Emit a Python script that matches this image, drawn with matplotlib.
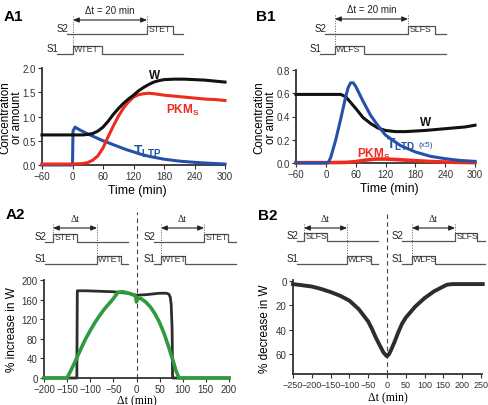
import matplotlib
matplotlib.use("Agg")
import matplotlib.pyplot as plt

plt.rcParams["font.family"] = ["Liberation Sans", "DejaVu Sans"]
plt.rcParams["mathtext.fontset"] = "custom"
plt.rcParams["mathtext.rm"] = "Liberation Sans"
plt.rcParams["mathtext.bf"] = "Liberation Sans:bold"

# ─────────────────────────────────────────
# DATA
# ─────────────────────────────────────────
# A1 : STET/WTET, concentrations vs time
a1_t_w = [-60, 0, 20, 30, 40, 50, 60, 70, 80, 90, 100, 110, 120, 130, 140,
          150, 160, 170, 180, 200, 220, 240, 260, 280, 300]
a1_w = [0.62, 0.62, 0.62, 0.63, 0.65, 0.70, 0.78, 0.90, 1.04, 1.16, 1.27, 1.36,
        1.44, 1.53, 1.60, 1.66, 1.71, 1.74, 1.76, 1.77, 1.77, 1.76, 1.75, 1.73, 1.71]
a1_t_pkm = [-60, 0, 20, 30, 40, 50, 60, 70, 80, 90, 100, 110, 120, 130, 140,
            150, 160, 180, 200, 220, 240, 260, 280, 300]
a1_pkm = [0.02, 0.02, 0.03, 0.05, 0.10, 0.19, 0.35, 0.58, 0.80, 1.00, 1.17, 1.30,
          1.40, 1.45, 1.47, 1.48, 1.47, 1.44, 1.42, 1.40, 1.38, 1.36, 1.35, 1.33]
a1_t_tag = [-60, 0, 1, 5, 15, 30, 45, 60, 75, 90, 105, 120, 135, 150, 180,
            210, 240, 270, 300]
a1_tag = [0.0, 0.0, 0.70, 0.78, 0.72, 0.64, 0.57, 0.50, 0.44, 0.38, 0.32, 0.27,
          0.22, 0.18, 0.12, 0.08, 0.055, 0.035, 0.02]

# B1 : SLFS/WLFS
b1_t_w = [-60, 0, 30, 40, 50, 60, 75, 90, 105, 120, 140, 160, 200, 240, 280, 300]
b1_w = [0.59, 0.59, 0.59, 0.57, 0.52, 0.47, 0.39, 0.34, 0.30, 0.28, 0.27, 0.27,
        0.28, 0.295, 0.31, 0.325]
b1_t_tag = [-60, 0, 5, 10, 20, 30, 40, 45, 50, 55, 60, 75, 90, 105, 120, 150,
            180, 210, 240, 270, 300]
b1_tag = [0.0, 0.0, 0.005, 0.05, 0.20, 0.38, 0.57, 0.65, 0.69, 0.69, 0.66, 0.53,
          0.41, 0.32, 0.24, 0.15, 0.095, 0.058, 0.037, 0.022, 0.014]
b1_t_pkm = [-60, 0, 40, 60, 80, 100, 120, 140, 160, 180, 210, 240, 270, 300]
b1_pkm = [0.003, 0.003, 0.005, 0.012, 0.025, 0.034, 0.034, 0.030, 0.025, 0.020,
          0.013, 0.008, 0.005, 0.003]

# A2 : % increase in W vs interval
a2_dt_black = [-200, -129, -128, -110, -80, -50, -20, 0, 20, 50, 65, 70, 73, 75,
               77, 78, 200]
a2_black = [0, 0, 178, 178, 177, 176, 173, 169, 170, 173, 173, 171, 165, 150,
            100, 0, 0]
a2_dt_green = [-200, -150, -140, -130, -120, -110, -100, -90, -80, -70, -60, -50,
               -40, -30, -20, -10, -2, 0, 2, 10, 20, 30, 40, 50, 60, 70, 80, 85,
               92, 200]
a2_green = [0, 0, 19, 39, 60, 80, 97, 113, 127, 140, 151, 162, 175, 176, 174,
            171, 167, 155, 163, 162, 155, 145, 131, 113, 90, 62, 32, 16, 0, 0]

# B2 : % decrease in W vs interval
b2_dt = [-250, -225, -200, -175, -150, -125, -100, -75, -50, -40, -30, -20, -10,
         -5, 0, 5, 10, 20, 30, 40, 50, 75, 100, 125, 150, 160, 175, 200, 225, 255]
b2_dec = [2.5, 3.5, 4.5, 6.5, 9, 12, 16, 23, 33, 39, 46, 52, 58, 60, 61.5, 60,
          57, 50, 42, 35, 30, 21, 14, 8.5, 4.5, 3, 2.5, 2.5, 2.5, 2.5]

a1_xticks = [-60, 0, 60, 120, 180, 240, 300]
a1_yticks = [0.0, 0.5, 1.0, 1.5, 2.0]
b1_yticks = [0.0, 0.2, 0.4, 0.6, 0.8]
a2_xticks = [-200, -150, -100, -50, 0, 50, 100, 150, 200]
a2_yticks = [0, 40, 80, 120, 160, 200]
b2_xticks = [-250, -200, -150, -100, -50, 0, 50, 100, 150, 200, 250]
b2_yticks = [0, 20, 40, 60]

BLACK = "#111111"
RED = "#ee2b1d"
BLUE = "#2452a8"
GREEN = "#2f9a3e"
DARK = "#2d2d2d"
AXC = "#333333"
PROT = "#555555"
SERIF = ["Liberation Serif", "DejaVu Serif"]

W, H = 488, 406


def box(l, t, r, b):
    """pixel box -> figure fraction rect"""
    return [l / W, 1 - b / H, (r - l) / W, (b - t) / H]


def style(ax):
    ax.patch.set_alpha(0)
    for s in ["top", "right"]:
        ax.spines[s].set_visible(False)
    for s in ["left", "bottom"]:
        ax.spines[s].set_color(AXC)
        ax.spines[s].set_linewidth(1.3)
    ax.tick_params(labelsize=7, colors="#333333", length=3, width=0.8, pad=1.5)


def train(ov, lab, y, x0, p0, p1, x1, name, h=8):
    ov.plot([x0, p0, p0, p1, p1, x1], [y, y, y - h, y - h, y, y],
            color=PROT, lw=0.9)
    ov.text(p0 + 1.2, y - 0.8, name, fontsize=6.3, ha="left", va="bottom",
            color="#333333")
    ov.text(x0 + 1, y - 0.5, lab, fontsize=7, ha="right", va="bottom",
            color="#222222")


def interval(ov, xa, xb, y, ya, yb, txt, serif=False, size=7):
    ov.plot([xa, xa], [y - 4, ya], color=PROT, lw=0.7, ls=":")
    ov.plot([xb, xb], [y - 4, yb], color=PROT, lw=0.7, ls=":")
    ov.annotate("", xy=(xb, y), xytext=(xa, y),
                arrowprops=dict(arrowstyle="<|-|>,head_length=0.35,head_width=0.15",
                                color="#222222", lw=0.8, shrinkA=0, shrinkB=0))
    ov.text((xa + xb) / 2, y - 5, txt, fontsize=size, ha="center", va="bottom",
            family=SERIF if serif else None, color="#222222")


fig = plt.figure(figsize=(W / 100, H / 100), dpi=100)

# overlay in pixel units for the stimulation protocols
ov = fig.add_axes([0, 0, 1, 1])
ov.set_xlim(0, W)
ov.set_ylim(H, 0)
ov.axis("off")

# ── A1 ──
ax = fig.add_axes(box(42, 69, 225, 166))
style(ax)
ax.plot(a1_t_tag, a1_tag, color=BLUE, lw=2.2, clip_on=False, zorder=3)
ax.plot(a1_t_pkm, a1_pkm, color=RED, lw=2.2, clip_on=False, zorder=4)
ax.plot(a1_t_w, a1_w, color=BLACK, lw=2.2, clip_on=False, zorder=5)
ax.set_xlim(-60, 300)
ax.set_ylim(0, 2.0)
ax.set_xticks(a1_xticks)
ax.set_yticks(a1_yticks)
ax.set_yticklabels([f"{v:.1f}" for v in a1_yticks])
ax.set_xlabel("Time (min)", fontsize=8.8)
ax.xaxis.set_label_coords(0.52, -0.2)
ax.set_ylabel("Concentration\nor amount", fontsize=8.4, linespacing=0.95)
ax.yaxis.set_label_coords(-0.105, 0.5)
ax.text(162, 1.86, "W", color=BLACK, fontsize=8.5, fontweight="bold",
        ha="center", va="center")
ax.text(217, 1.15, r"$\mathbf{PKM_S}$", color=RED, fontsize=8.5,
        ha="center", va="center")
ax.text(147, 0.29, r"$\mathbf{T_{LTP}}$", color=BLUE, fontsize=10,
        ha="center", va="center")

train(ov, "S2", 35, 67, 147, 173, 183, "STET")
train(ov, "S1", 55, 57, 73, 102, 183, "WTET")
interval(ov, 73, 147, 21, 55, 35, "\u0394t = 20 min", size=7)

# ── B1 ──
ax = fig.add_axes(box(296, 71, 475, 164))
style(ax)
ax.plot(b1_t_pkm, b1_pkm, color=RED, lw=2.6, clip_on=False, zorder=3)
ax.plot(b1_t_w, b1_w, color=BLACK, lw=2.2, clip_on=False, zorder=4)
ax.plot(b1_t_tag, b1_tag, color=BLUE, lw=2.2, clip_on=False, zorder=5)
ax.set_xlim(-60, 300)
ax.set_ylim(0, 0.8)
ax.set_xticks(a1_xticks)
ax.set_yticks(b1_yticks)
ax.set_yticklabels([f"{v:.1f}" for v in b1_yticks])
ax.set_xlabel("Time (min)", fontsize=8.8)
ax.xaxis.set_label_coords(0.52, -0.2)
ax.set_ylabel("Concentration\nor amount", fontsize=8.4, linespacing=0.95)
ax.yaxis.set_label_coords(-0.105, 0.5)
ax.text(201, 0.353, "W", color=BLACK, fontsize=8.5, fontweight="bold",
        ha="center", va="center")
ax.text(150, 0.165, r"$\mathbf{T_{LTD}}$", color=BLUE, fontsize=10,
        ha="center", va="center")
ax.text(187, 0.16, "(x5)", color=BLUE, fontsize=6, ha="left", va="center")
ax.text(96, 0.08, r"$\mathbf{PKM_S}$", color=RED, fontsize=8.5,
        ha="center", va="center")

train(ov, "S2", 35, 325, 408, 435, 446, "SLFS")
train(ov, "S1", 55, 320, 335, 364, 446, "WLFS")
interval(ov, 335, 408, 20, 55, 35, "\u0394t = 20 min", size=7)

# ── A2 ──
ax = fig.add_axes(box(44, 281, 229, 379))
style(ax)
ax.plot(a2_dt_black, a2_black, color=DARK, lw=2.0, clip_on=False, zorder=3)
ax.plot(a2_dt_green, a2_green, color=GREEN, lw=2.6, clip_on=False, zorder=4)
ax.axvline(0, ymin=0, ymax=1.69, color="#444444", lw=0.8, ls=(0, (4, 3)),
           clip_on=False, zorder=2)
ax.set_xlim(-200, 200)
ax.set_ylim(0, 200)
ax.set_xticks(a2_xticks)
ax.set_yticks(a2_yticks)
ax.set_xlabel("\u0394t (min)", fontsize=8.5, family=SERIF)
ax.xaxis.set_label_coords(0.5, -0.165)
ax.set_ylabel("% increase in W", fontsize=8.5)
ax.yaxis.set_label_coords(-0.14, 0.5)

train(ov, "S2", 243, 45, 53, 77, 128, "STET")
train(ov, "S1", 265, 45, 97, 121, 128, "WTET")
interval(ov, 53, 97, 229, 243, 265, "\u0394t", serif=True, size=7)
train(ov, "S2", 243, 154, 204, 228, 236, "STET")
train(ov, "S1", 265, 154, 161, 185, 236, "WTET")
interval(ov, 161, 204, 229, 265, 243, "\u0394t", serif=True, size=7)

# ── B2 ──
ax = fig.add_axes(box(293, 281.4, 482, 375))
style(ax)
ax.plot(b2_dt, b2_dec, color=DARK, lw=2.8, clip_on=False, zorder=3)
ax.axvline(0, ymin=0, ymax=1.74, color="#444444", lw=0.8, ls=(0, (4, 3)),
           clip_on=False, zorder=2)
ax.set_xlim(-250, 253)
ax.set_ylim(76, -0.5)
ax.set_xticks(b2_xticks)
ax.set_yticks(b2_yticks)
ax.tick_params(axis="x", labelsize=6.5)
ax.set_xlabel("\u0394t (min)", fontsize=8.5, family=SERIF)
ax.xaxis.set_label_coords(0.5, -0.19)
ax.set_ylabel("% decrease in W", fontsize=8.5)
ax.yaxis.set_label_coords(-0.117, 0.5)

train(ov, "S2", 242, 297, 304, 327, 378, "SLFS")
train(ov, "S1", 265, 297, 347, 371, 378, "WLFS")
interval(ov, 304, 347, 229, 242, 265, "\u0394t", serif=True, size=7)
train(ov, "S2", 242, 402, 455, 477, 485, "SLFS")
train(ov, "S1", 265, 402, 412, 435, 485, "WLFS")
interval(ov, 412, 455, 229, 265, 242, "\u0394t", serif=True, size=7)

# panel letters
for lab, px, py in [("A1", 13, 17), ("B1", 266, 17), ("A2", 15, 215), ("B2", 268, 216)]:
    fig.text(px / W, 1 - py / H, lab, fontsize=11, fontweight="bold",
             ha="center", va="center")

fig.savefig("out.png", dpi=100)
